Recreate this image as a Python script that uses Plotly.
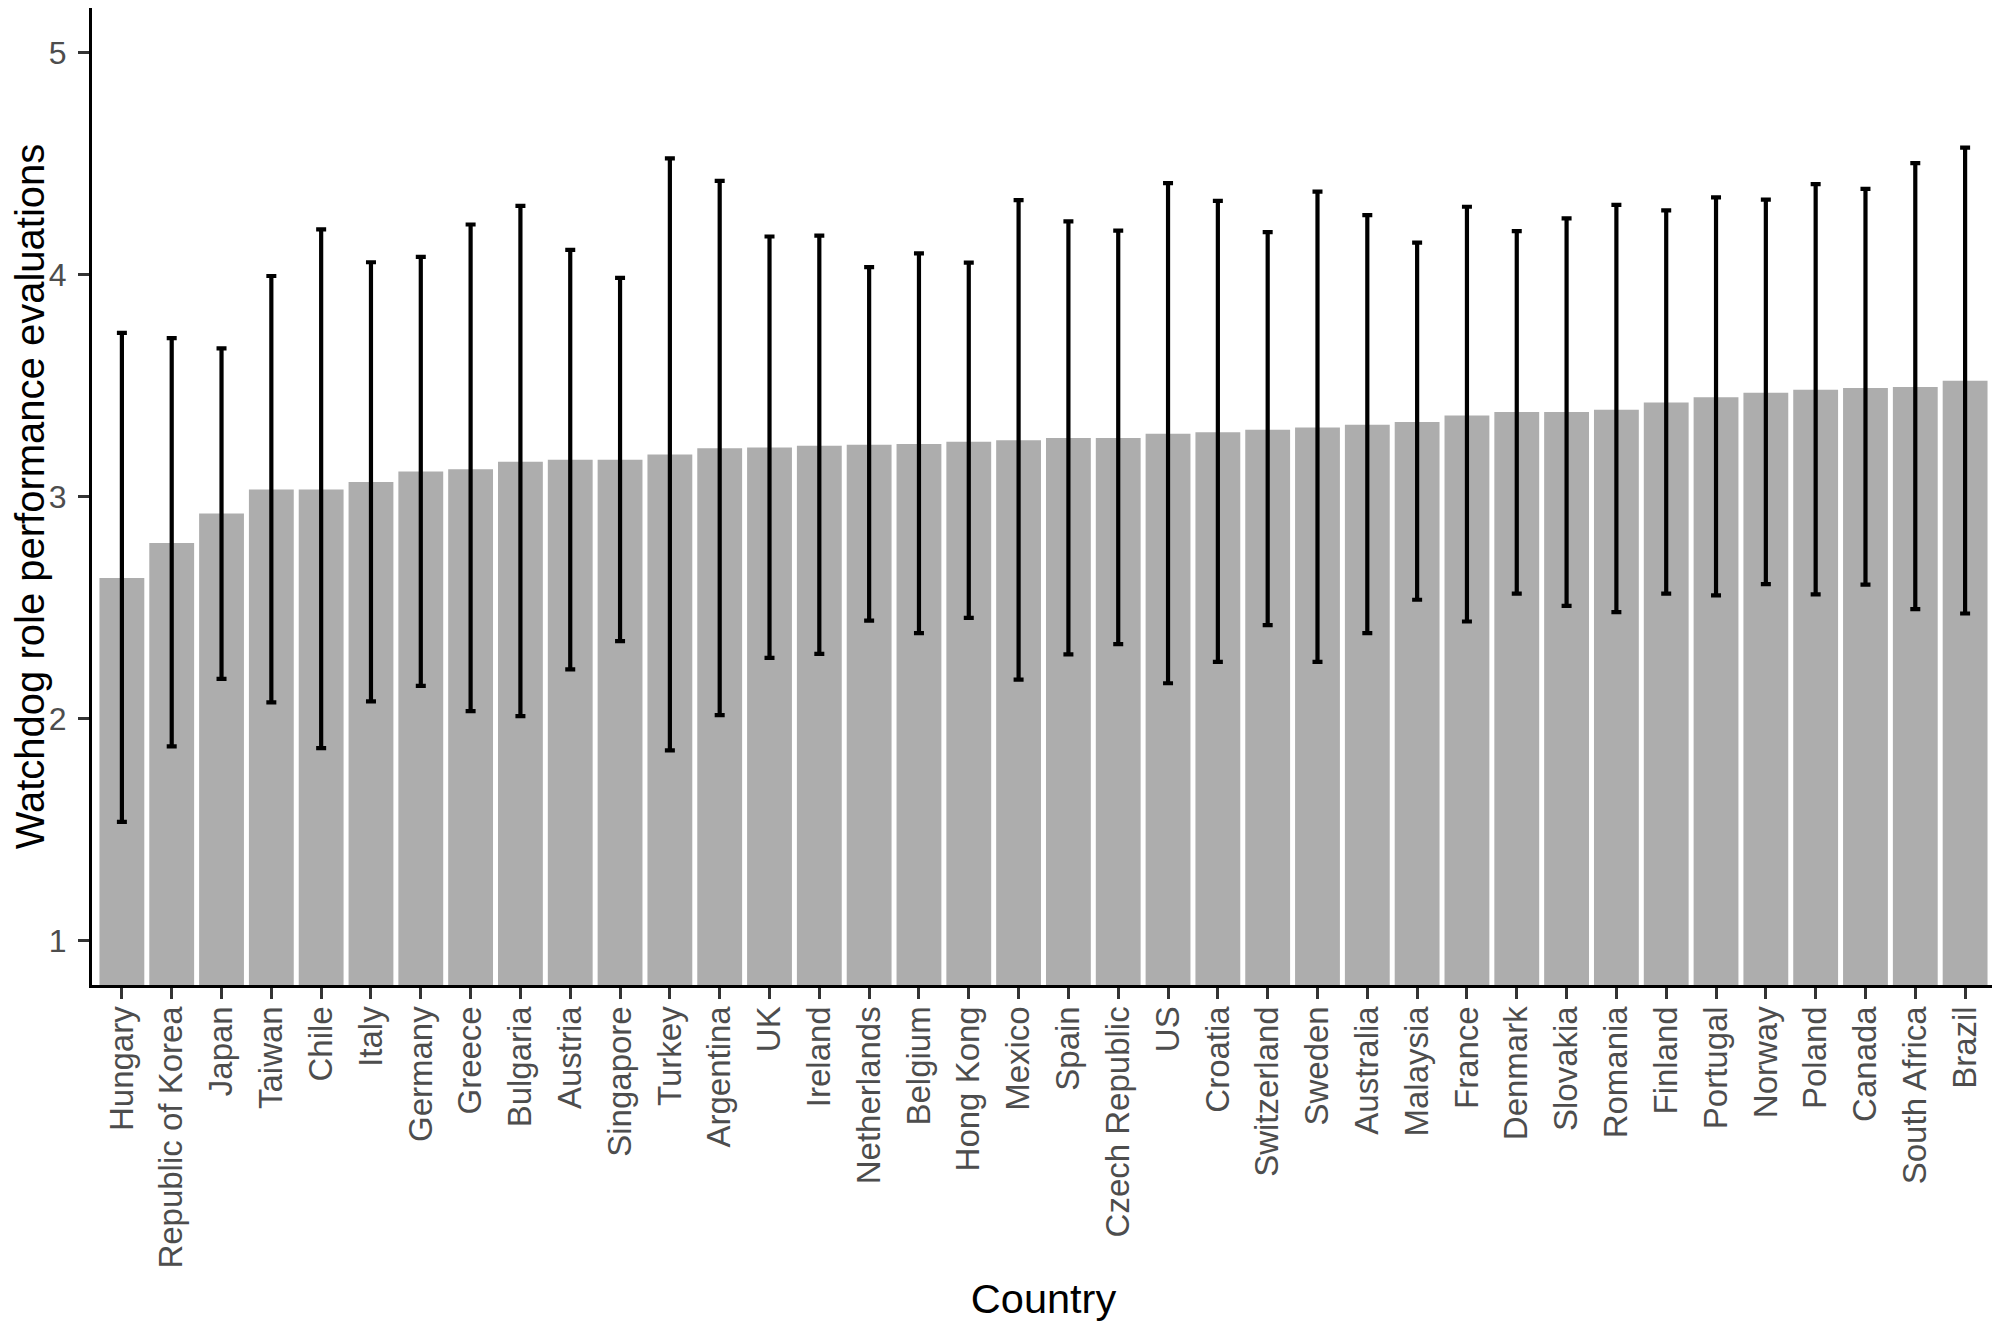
import plotly.graph_objects as go

countries = ["Hungary", "Republic of Korea", "Japan", "Taiwan", "Chile", "Italy", "Germany",
             "Greece", "Bulgaria", "Austria", "Singapore", "Turkey", "Argentina", "UK",
             "Ireland", "Netherlands", "Belgium", "Hong Kong", "Mexico", "Spain",
             "Czech Republic", "US", "Croatia", "Switzerland", "Sweden", "Australia",
             "Malaysia", "France", "Denmark", "Slovakia", "Romania", "Finland", "Portugal",
             "Norway", "Poland", "Canada", "South Africa", "Brazil"]

means = [2.633, 2.791, 2.923, 3.031, 3.031, 3.065, 3.113, 3.123, 3.157, 3.165,
         3.165, 3.189, 3.217, 3.221, 3.229, 3.233, 3.237, 3.247, 3.253, 3.263,
         3.263, 3.283, 3.289, 3.301, 3.311, 3.323, 3.335, 3.365, 3.381, 3.381,
         3.391, 3.423, 3.447, 3.467, 3.481, 3.489, 3.493, 3.521]

upper = [3.737, 3.713, 3.667, 3.993, 4.203, 4.055, 4.079, 4.225, 4.309, 4.111,
         3.985, 4.523, 4.421, 4.171, 4.175, 4.033, 4.095, 4.053, 4.335, 4.239,
         4.197, 4.411, 4.331, 4.191, 4.373, 4.267, 4.143, 4.305, 4.195, 4.253,
         4.313, 4.289, 4.347, 4.337, 4.407, 4.385, 4.501, 4.571]

lower = [1.535, 1.875, 2.179, 2.073, 1.867, 2.077, 2.147, 2.033, 2.011, 2.221,
         2.349, 1.857, 2.015, 2.273, 2.291, 2.441, 2.385, 2.453, 2.175, 2.289,
         2.335, 2.159, 2.255, 2.421, 2.255, 2.385, 2.535, 2.437, 2.563, 2.507,
         2.479, 2.563, 2.555, 2.605, 2.559, 2.603, 2.493, 2.473]

y_ticks = [1, 2, 3, 4, 5]

err_plus = [u - m for u, m in zip(upper, means)]
err_minus = [m - l for m, l in zip(means, lower)]

fig = go.Figure()
fig.add_trace(go.Bar(
    x=countries, y=means,
    marker=dict(color="#ADADAD", line=dict(width=0)),
    error_y=dict(type="data", symmetric=False, array=err_plus, arrayminus=err_minus,
                 color="black", thickness=4.2, width=5),
    hoverinfo="x+y",
))

x_tick_font = dict(family="Liberation Sans, Arial, sans-serif", size=33, color="#4D4D4D")
y_tick_font = dict(family="Liberation Sans, Arial, sans-serif", size=32, color="#4D4D4D")
title_font = dict(family="Liberation Sans, Arial, sans-serif", size=41.5, color="black")

# page body adds an 8px offset; figure sized so the plot lands where the reference has it
fig.update_layout(
    width=1992, height=1314,
    margin=dict(l=84, r=5, t=0, b=337),
    plot_bgcolor="white", paper_bgcolor="white",
    bargap=0.1, showlegend=False,
)
fig.update_xaxes(
    type="category", range=[-0.6, len(countries) - 0.4],
    showline=True, linecolor="black", linewidth=3.2,
    ticks="outside", ticklen=11, tickwidth=2.5, tickcolor="#333333",
    tickangle=-90, tickfont=x_tick_font, ticklabelstandoff=-6,
    showgrid=False, zeroline=False,
    title=dict(text="Country", font=title_font, standoff=17),
    automargin=False,
)
fig.update_yaxes(
    range=[0.8, 5.2], tickvals=y_ticks, ticktext=[str(v) for v in y_ticks],
    showline=True, linecolor="black", linewidth=3.2,
    ticks="outside", ticklen=11, tickwidth=2.5, tickcolor="#333333",
    tickfont=y_tick_font, ticklabelstandoff=5,
    showgrid=False, zeroline=False,
    title=dict(text="Watchdog role performance evaluations",
               font=dict(family="Liberation Sans, Arial, sans-serif", size=40, color="black"),
               standoff=24),
    automargin=False,
)

fig.write_html("out.html")
